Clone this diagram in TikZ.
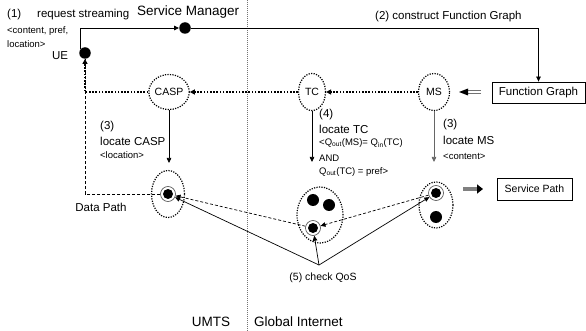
\documentclass[tikz,border=0pt]{standalone}
\usepackage{fontspec}
\setmainfont{Liberation Sans}
\usetikzlibrary{arrows.meta,shapes.geometric}
\newcommand{\mainf}{\fontsize{11.5}{13}\selectfont}
\newcommand{\smallf}{\fontsize{9.5}{11}\selectfont}
\newcommand{\bigf}{\fontsize{13.5}{15}\selectfont}
\newcommand{\labf}{\fontsize{10.5}{12}\selectfont}
\begin{document}
\begin{tikzpicture}[x=1pt,y=-1pt,
  dot/.style={circle, fill=black, inner sep=0pt, minimum size=11.5pt},
  ringdot/.style={circle, draw=black!70, line width=0.6pt, fill=white, inner sep=0pt, minimum size=15pt,
    path picture={\fill[black] (path picture bounding box.center) circle (5pt);}},
  elli/.style={ellipse, draw, line width=1.2pt, dash pattern=on 1.2pt off 1.3pt, inner sep=0pt, font=\labf},
  boxnode/.style={rectangle, draw, line width=0.8pt, inner sep=0pt, font=\mainf},
  txt/.style={inner sep=0pt, anchor=west, font=\mainf},
  stxt/.style={inner sep=0pt, anchor=west, font=\smallf},
  arr/.style={line width=0.7pt, -{Triangle[length=5pt,width=4.5pt]}},
  dotarr/.style={line width=1.6pt, dash pattern=on 1.6pt off 1.6pt, -{Triangle[length=5pt,width=5pt]}},
  dasharr/.style={line width=0.7pt, dash pattern=on 3pt off 2pt, -{Triangle[length=5pt,width=4.5pt]}},
]
\useasboundingbox (0,0) rectangle (586,331);

% separator
\draw[black!55, line width=0.9pt, dash pattern=on 1pt off 1pt] (247,0) -- (247,331);

% main nodes
\node[dot] (ue) at (85,53) {};
\node[dot] (sm) at (185,28) {};
\node[boxnode, minimum width=93pt, minimum height=21pt] (fg) at (538.5,92.5) {Function Graph};
\node[elli, minimum width=38pt, minimum height=35pt] (casp) at (169,92) {CASP};
\node[elli, minimum width=27pt, minimum height=37pt] (tc) at (312,92) {TC};
\node[elli, minimum width=31pt, minimum height=37pt] (ms) at (434,92) {MS};

% clusters
\node[elli, minimum width=33pt, minimum height=47pt] (c1) at (168,194) {};
\node[elli, minimum width=46pt, minimum height=56pt] (c2) at (320,215) {};
\node[elli, minimum width=34pt, minimum height=46pt] (c3) at (436,205) {};
\node[ringdot] (r1) at (168,194) {};
\node[ringdot] (r2) at (313,228) {};
\node[ringdot] (r3) at (436,193) {};
\node[dot, minimum size=12pt] (d2a) at (313,200) {};
\node[dot, minimum size=12pt] (d2b) at (329,205) {};
\node[dot, minimum size=12pt] (d3) at (436,217) {};

\node[boxnode, minimum width=75pt, minimum height=22pt, font=\labf] (sp) at (534.5,189) {Service Path};

% texts
\node[txt] (t1) at (7,15) {(1)};
\node[txt] (t1b) at (37,15) {request streaming};
\node[stxt] (t1c) at (7,31) {<content, pref,};
\node[stxt] (t1d) at (7,44) {location>};
\node[txt, font=\bigf] (tsm) at (137,12) {Service Manager};
\node[inner sep=0pt, font=\mainf] (tue) at (60,56) {UE};
\node[txt] (t2) at (375,17) {(2) construct Function Graph};

\node[txt] (t3a) at (100,127) {(3)};
\node[txt] (t3b) at (100,141) {locate CASP};
\node[stxt] (t3c) at (100,155) {<location>};

\node[txt] (t4a) at (319,115) {(4)};
\node[txt] (t4b) at (319,129) {locate TC};
\node[stxt] (t4c) at (319,143) {<Q\textsubscript{out}(MS)= Q\textsubscript{in}(TC)};
\node[stxt] (t4d) at (319,158) {AND};
\node[stxt] (t4e) at (319,172) {Q\textsubscript{out}(TC) = pref>};

\node[txt] (t5a) at (443,125) {(3)};
\node[txt] (t5b) at (443,140) {locate MS};
\node[stxt] (t5c) at (443,156) {<content>};

\node[inner sep=0pt, font=\mainf] (tdp) at (101,207) {Data Path};
\node[inner sep=0pt, font=\labf] (tq) at (323,278) {(5) check QoS};
\node[inner sep=0pt, font=\bigf] (tumts) at (211,322) {UMTS};
\node[txt, font=\bigf] (tgi) at (254,322) {Global Internet};

% coordinates
\coordinate (a1) at (169,163);
\coordinate (a2) at (312,162);
\coordinate (a3) at (434,162);
\coordinate (dp) at (85,194);
\coordinate (q) at (319,265);
\coordinate (da1) at (481,92);
\coordinate (da2) at (467,92);
\coordinate (sa1) at (463,189);
\coordinate (sa2) at (483,189);

% connectors
\draw[arr] (ue.135) |- (sm);
\draw[arr] (sm) -| (fg);
\draw[dotarr] (ms) -- (tc);
\draw[dotarr] (tc) -- (casp);
\draw[dotarr] (casp) -| (ue);
\draw[arr] (casp) -- (a1);
\draw[arr] (tc) -- (a2);
\draw[arr, black!60] (ms) -- (a3);
\draw[line width=0.7pt, dash pattern=on 3pt off 2pt] (r1) -- (dp) -- (ue);
\draw[dasharr] (r3) -- (r2);
\draw[dasharr] (r2) -- (r1);
\draw[arr] (q) -- (r2);
\draw[arr] (q) -- (r1);
\draw[arr] (q) -- (r3);

% double arrow Function Graph -> MS
\draw[black!55, line width=0.7pt] ([yshift=-1.3pt]da1) -- ([yshift=-1.3pt]da2) ([yshift=1.3pt]da1) -- ([yshift=1.3pt]da2);
\fill[black] (459,92) -- (468,88.5) -- (468,95.5) -- cycle;

% gray arrow to Service Path
\draw[black!50, line width=3.5pt, -{Triangle[length=6pt,width=9pt,color=black]}] (sa1) -- (sa2);
\end{tikzpicture}
\end{document}
